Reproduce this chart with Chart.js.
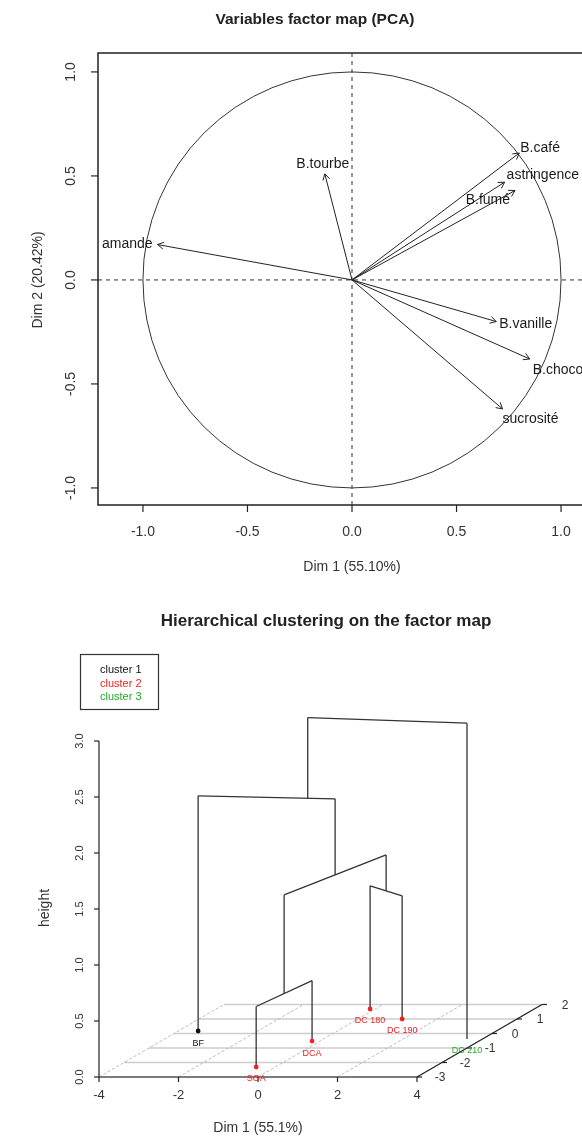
<!DOCTYPE html>
<html><head><meta charset="utf-8">
<script src="https://cdn.jsdelivr.net/npm/chart.js@4.4.0/dist/chart.umd.min.js"></script>
<style>
html,body{margin:0;padding:0;background:#fff;overflow:hidden;width:582px;height:1140px;position:relative;}
#c1{position:absolute;left:0;top:0;}
#c2{position:absolute;left:0;top:590px;}
</style></head><body>
<canvas id="c1" width="620" height="590"></canvas>
<canvas id="c2" width="582" height="550"></canvas>
<script>
// ---------- DATA: PCA variables factor map ----------
const variables  = ['B.café','astringence','B.fumé','B.tourbe','amande','B.vanille','B.choco','sucrosité'];
const varDim1    = [0.80, 0.73, 0.78, -0.13, -0.93, 0.69, 0.85, 0.72];
const varDim2    = [0.61, 0.47, 0.43, 0.51, 0.17, -0.20, -0.38, -0.62];
const pcaTicks   = [-1.0, -0.5, 0.0, 0.5, 1.0];
const pcaTitle   = 'Variables factor map (PCA)';
const pcaXLabel  = 'Dim 1 (55.10%)';
const pcaYLabel  = 'Dim 2 (20.42%)';

// ---------- DATA: hierarchical clustering on the factor map ----------
const leafNames   = ['BF','SOA','DCA','DC 180','DC 190','DC 210'];
const leafDim1    = [-3.50, -0.48, -0.20, -0.13, 1.11, 3.61];
const leafDim2    = [0.17, -2.31, -0.52, 1.69, 1.00, -0.38];
const leafCluster = [1, 2, 2, 2, 2, 3];
const mergeLeft   = [-2, -4, 1, -1, 4];
const mergeRight  = [-3, -5, 2, 3, -6];
const mergeHeight = [0.54, 1.10, 1.42, 2.10, 2.82];
const clusterNames = ['cluster 1','cluster 2','cluster 3'];
const hcDim1Ticks  = [-4, -2, 0, 2, 4];
const hcDim2Ticks  = [-3, -2, -1, 0, 1, 2];
const hcHeightTicks = [0.0, 0.5, 1.0, 1.5, 2.0, 2.5, 3.0];
const hcTitle  = 'Hierarchical clustering on the factor map';
const hcXLabel = 'Dim 1 (55.1%)';
const hcYLabel = 'height';

// ---------- STYLE ----------
const FONT = '"Liberation Sans", Arial, Helvetica, sans-serif';
const INK = '#222';
const clusterColors = ['#111111', '#ee2222', '#22aa22'];
const labelLayout = {
  'B.café':      {align:'left',   dx: 1,  dy: -5},
  'astringence': {align:'left',   dx: 2,  dy: -7},
  'B.fumé':      {align:'right',  dx: -5, dy: 10},
  'B.tourbe':    {align:'center', dx: -2, dy: -10},
  'amande':      {align:'right',  dx: -5, dy: 0},
  'B.vanille':   {align:'left',   dx: 3,  dy: 3},
  'B.choco':     {align:'left',   dx: 3,  dy: 11},
  'sucrosité':   {align:'left',   dx: 0,  dy: 10}
};
// oblique projection of the depth axis (scatterplot3d-like)
const DEPTH_DX = 0.629, DEPTH_DY = 0.1295;

function txt(ctx, s, x, y, o) {
  o = Object.assign({size:12, weight:'normal', color:INK, align:'center', baseline:'middle', rot:0}, o || {});
  ctx.save(); ctx.translate(x, y); if (o.rot) ctx.rotate(o.rot);
  ctx.font = `${o.weight} ${o.size}px ${FONT}`; ctx.fillStyle = o.color;
  ctx.textAlign = o.align; ctx.textBaseline = o.baseline;
  ctx.fillText(s, 0, 0); ctx.restore();
}
function line(ctx, x1, y1, x2, y2) { ctx.beginPath(); ctx.moveTo(x1, y1); ctx.lineTo(x2, y2); ctx.stroke(); }

// ---------- CHART 1 ----------
const pcaDatasets = variables.map((v, i) => ({
  label: v,
  data: [{x: 0, y: 0}, {x: varDim1[i], y: varDim2[i]}],
  showLine: true, borderColor: INK, borderWidth: 1, pointRadius: 0, fill: false
}));

const pcaPlugin = {
  id: 'pcaDecor',
  beforeDatasetsDraw(chart) {
    const {ctx, chartArea: a, scales: {x, y}} = chart;
    ctx.save();
    const cx = x.getPixelForValue(0), cy = y.getPixelForValue(0);
    const rx = x.getPixelForValue(1) - cx, ry = cy - y.getPixelForValue(1);
    ctx.strokeStyle = '#333'; ctx.lineWidth = 1;
    ctx.beginPath(); ctx.ellipse(cx, cy, rx, ry, 0, 0, Math.PI * 2); ctx.stroke();
    ctx.setLineDash([4, 4]);
    line(ctx, a.left, cy, a.right, cy);
    line(ctx, cx, a.top, cx, a.bottom);
    ctx.restore();
  },
  afterDatasetsDraw(chart) {
    const {ctx, chartArea: a, scales: {x, y}} = chart;
    ctx.save();
    const ox = x.getPixelForValue(0), oy = y.getPixelForValue(0);
    ctx.strokeStyle = INK; ctx.lineWidth = 1;
    variables.forEach((v, i) => {
      const tx = x.getPixelForValue(varDim1[i]), ty = y.getPixelForValue(varDim2[i]);
      const ang = Math.atan2(ty - oy, tx - ox), L = 7, w = Math.PI / 6;
      ctx.beginPath();
      ctx.moveTo(tx - L * Math.cos(ang - w), ty - L * Math.sin(ang - w));
      ctx.lineTo(tx, ty);
      ctx.lineTo(tx - L * Math.cos(ang + w), ty - L * Math.sin(ang + w));
      ctx.stroke();
      const lay = labelLayout[v];
      txt(ctx, v, tx + lay.dx, ty + lay.dy, {size: 14, align: lay.align, color: '#1a1a1a'});
    });
    // box
    ctx.strokeStyle = '#222'; ctx.lineWidth = 1.5;
    ctx.strokeRect(a.left, a.top, a.right - a.left, a.bottom - a.top);
    ctx.lineWidth = 1.2;
    pcaTicks.forEach(t => {
      const px = x.getPixelForValue(t);
      line(ctx, px, a.bottom, px, a.bottom + 7);
      txt(ctx, t.toFixed(1), px, a.bottom + 27, {size: 14, color: '#333'});
      const py = y.getPixelForValue(t);
      line(ctx, a.left - 7, py, a.left, py);
      txt(ctx, t.toFixed(1), a.left - 27, py, {size: 14, color: '#333', rot: -Math.PI / 2});
    });
    txt(ctx, pcaXLabel, (a.left + x.getPixelForValue(0)) / 2 + (x.getPixelForValue(0) - a.left) / 2, a.bottom + 62, {size: 14, color: '#333'});
    txt(ctx, pcaYLabel, 38, oy, {size: 14, color: '#333', rot: -Math.PI / 2});
    txt(ctx, pcaTitle, 315, 20, {size: 15.5, weight: 'bold', color: '#222'});
    ctx.restore();
  }
};

new Chart(document.getElementById('c1'), {
  type: 'scatter',
  data: {datasets: pcaDatasets},
  options: {
    responsive: false, animation: false, devicePixelRatio: 1,
    layout: {padding: {left: 98, right: 14, top: 53, bottom: 85}},
    scales: {
      x: {type: 'linear', min: -1.215, max: 1.215, display: false},
      y: {type: 'linear', min: -1.082, max: 1.091, display: false}
    },
    plugins: {legend: {display: false}, tooltip: {enabled: false}, title: {display: false}}
  },
  plugins: [pcaPlugin]
});

// ---------- CHART 2 ----------
const d2min = hcDim2Ticks[0];
function proj(d1, d2, h) { return {x: d1 + DEPTH_DX * (d2 - d2min), y: h + DEPTH_DY * (d2 - d2min)}; }

const nodes = [], segs = [];
function getNode(id) {
  return id < 0 ? {d1: leafDim1[-id - 1], d2: leafDim2[-id - 1], h: 0, n: 1} : nodes[id - 1];
}
mergeLeft.forEach((l, k) => {
  const a = getNode(l), b = getNode(mergeRight[k]), H = mergeHeight[k];
  segs.push([proj(a.d1, a.d2, a.h), proj(a.d1, a.d2, H)]);
  segs.push([proj(b.d1, b.d2, b.h), proj(b.d1, b.d2, H)]);
  segs.push([proj(a.d1, a.d2, H), proj(b.d1, b.d2, H)]);
  const n = a.n + b.n;
  nodes.push({d1: (a.d1 * a.n + b.d1 * b.n) / n, d2: (a.d2 * a.n + b.d2 * b.n) / n, h: H, n});
});

const hcDatasets = [{
  label: 'individuals',
  data: leafNames.map((nm, i) => proj(leafDim1[i], leafDim2[i], 0)),
  pointRadius: 2.4, pointBorderWidth: 0,
  pointBackgroundColor: leafCluster.map(c => clusterColors[c - 1]),
  showLine: false, clip: false
}].concat(segs.map(s => ({
  label: 'tree', data: s, showLine: true, borderColor: '#333', borderWidth: 1.3,
  pointRadius: 0, clip: false, fill: false
})));

const hcPlugin = {
  id: 'hcDecor',
  beforeDatasetsDraw(chart) {
    const {ctx, scales: {x, y}} = chart;
    const P = (d1, d2, h) => { const q = proj(d1, d2, h); return [x.getPixelForValue(q.x), y.getPixelForValue(q.y)]; };
    const d1a = hcDim1Ticks[0], d1b = hcDim1Ticks[hcDim1Ticks.length - 1];
    const d2b = hcDim2Ticks[hcDim2Ticks.length - 1];
    ctx.save();
    ctx.strokeStyle = '#cdcdcd'; ctx.lineWidth = 1.4;
    hcDim2Ticks.forEach(t => { const p = P(d1a, t, 0), q = P(d1b, t, 0); line(ctx, p[0], p[1], q[0], q[1]); });
    ctx.strokeStyle = '#bbbbbb'; ctx.lineWidth = 1; ctx.setLineDash([3, 2]);
    hcDim1Ticks.forEach(t => { const p = P(t, d2min, 0), q = P(t, d2b, 0); line(ctx, p[0], p[1], q[0], q[1]); });
    ctx.restore();
  },
  afterDatasetsDraw(chart) {
    const {ctx, scales: {x, y}} = chart;
    const P = (d1, d2, h) => { const q = proj(d1, d2, h); return [x.getPixelForValue(q.x), y.getPixelForValue(q.y)]; };
    const d1a = hcDim1Ticks[0], d1b = hcDim1Ticks[hcDim1Ticks.length - 1];
    const d2b = hcDim2Ticks[hcDim2Ticks.length - 1];
    ctx.save();
    ctx.strokeStyle = '#222'; ctx.lineWidth = 1.2;
    // vertical height axis
    const hb = P(d1a, d2min, hcHeightTicks[0]), ht = P(d1a, d2min, hcHeightTicks[hcHeightTicks.length - 1]);
    line(ctx, hb[0], hb[1], ht[0], ht[1]);
    hcHeightTicks.forEach(t => {
      const p = P(d1a, d2min, t);
      line(ctx, p[0] - 5, p[1], p[0], p[1]);
      txt(ctx, t.toFixed(1), p[0] - 19, p[1], {size: 11, color: '#333', rot: -Math.PI / 2});
    });
    // Dim1 axis
    const xa = P(d1a, d2min, 0), xb = P(d1b, d2min, 0);
    line(ctx, xa[0], xa[1], xb[0], xb[1]);
    hcDim1Ticks.forEach(t => {
      const p = P(t, d2min, 0);
      line(ctx, p[0], p[1], p[0], p[1] + 5);
      txt(ctx, String(t), p[0], p[1] + 18, {size: 13, color: '#333'});
    });
    // depth axis
    const za = P(d1b, d2min, 0), zb = P(d1b, d2b, 0);
    line(ctx, za[0], za[1], zb[0], zb[1]);
    hcDim2Ticks.forEach(t => {
      const p = P(d1b, t, 0);
      line(ctx, p[0], p[1], p[0] + 5, p[1]);
      txt(ctx, String(t), p[0] + 23, p[1] + 1, {size: 12, color: '#333'});
    });
    // point labels
    leafNames.forEach((nm, i) => {
      const p = P(leafDim1[i], leafDim2[i], 0);
      txt(ctx, nm, p[0], p[1] + 12, {size: 9, color: clusterColors[leafCluster[i] - 1]});
    });
    // axis titles
    txt(ctx, hcXLabel, P(0, d2min, 0)[0], xa[1] + 51, {size: 14, color: '#333'});
    txt(ctx, hcYLabel, 45, 318, {size: 14, color: '#333', rot: -Math.PI / 2});
    // legend
    ctx.strokeStyle = '#333'; ctx.lineWidth = 1.2;
    ctx.strokeRect(80.5, 64.5, 78, 55);
    clusterNames.forEach((c, i) => txt(ctx, c, 100, 80 + i * 13.5, {size: 11, align: 'left', color: clusterColors[i]}));
    // title
    txt(ctx, hcTitle, 326, 31, {size: 17, weight: 'bold', color: '#222'});
    ctx.restore();
  }
};

new Chart(document.getElementById('c2'), {
  type: 'scatter',
  data: {datasets: hcDatasets},
  options: {
    responsive: false, animation: false, devicePixelRatio: 1,
    layout: {padding: {left: 99, right: 165, top: 151, bottom: 63}},
    scales: {
      x: {type: 'linear', min: -4, max: 4, display: false},
      y: {type: 'linear', min: 0, max: 3, display: false}
    },
    plugins: {legend: {display: false}, tooltip: {enabled: false}, title: {display: false}}
  },
  plugins: [hcPlugin]
});
</script>
</body></html>
